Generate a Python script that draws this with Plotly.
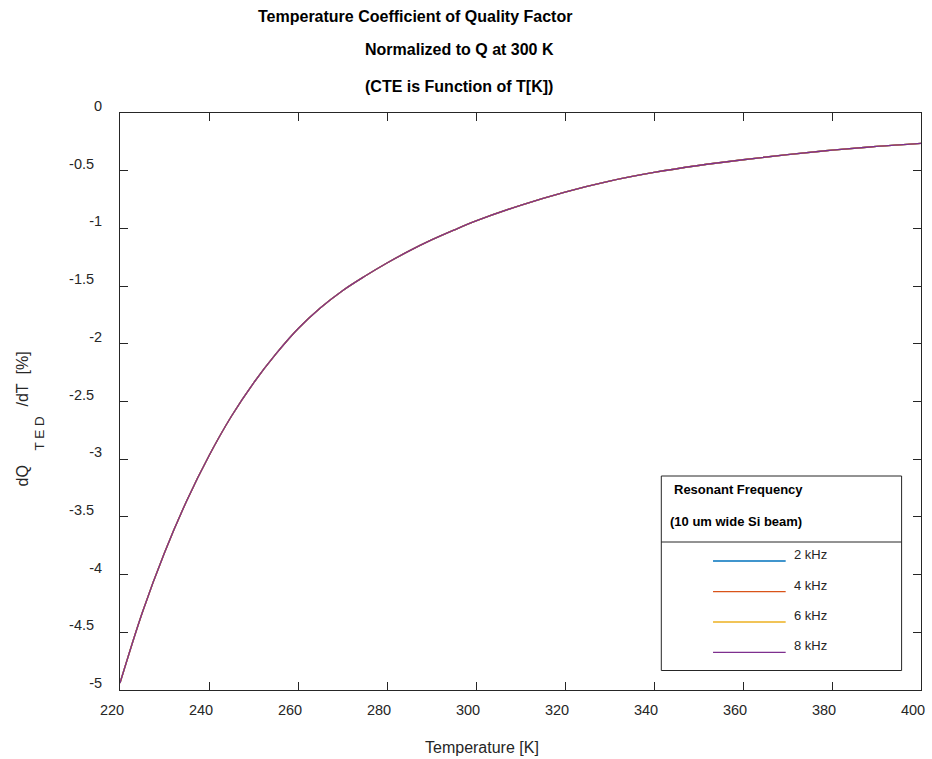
import plotly.graph_objects as go

# ---------------- data ----------------
temperature_k = [220, 225, 230, 235, 240, 245, 250, 255, 260, 265, 270, 275, 280,
                 285, 290, 295, 300, 310, 320, 330, 340, 350, 360, 370, 380, 390, 400]
dq_2khz = [-4.94, -4.33, -3.81, -3.36, -2.97, -2.63, -2.34, -2.09, -1.87, -1.69, -1.54,
           -1.415, -1.30, -1.195, -1.10, -1.015, -0.935, -0.80, -0.685, -0.59, -0.515,
           -0.455, -0.405, -0.36, -0.322, -0.29, -0.264]
dq_4khz = [-4.94, -4.33, -3.81, -3.36, -2.97, -2.63, -2.34, -2.09, -1.87, -1.69, -1.54,
           -1.415, -1.30, -1.195, -1.10, -1.015, -0.935, -0.80, -0.685, -0.59, -0.515,
           -0.455, -0.405, -0.36, -0.322, -0.29, -0.264]
dq_6khz = [-4.94, -4.33, -3.81, -3.36, -2.97, -2.63, -2.34, -2.09, -1.87, -1.69, -1.54,
           -1.415, -1.30, -1.195, -1.10, -1.015, -0.935, -0.80, -0.685, -0.59, -0.515,
           -0.455, -0.405, -0.36, -0.322, -0.29, -0.264]
dq_8khz = [-4.94, -4.33, -3.81, -3.36, -2.97, -2.63, -2.34, -2.09, -1.87, -1.69, -1.54,
           -1.415, -1.30, -1.195, -1.10, -1.015, -0.935, -0.80, -0.685, -0.59, -0.515,
           -0.455, -0.405, -0.36, -0.322, -0.29, -0.264]
series_names = ["2 kHz", "4 kHz", "6 kHz", "8 kHz"]
series_colors = ["#0072BD", "#D95319", "#EDB120", "#7E2F8E"]

x_tick_vals = [220, 240, 260, 280, 300, 320, 340, 360, 380, 400]
y_tick_vals = [0, -0.5, -1, -1.5, -2, -2.5, -3, -3.5, -4, -4.5, -5]
y_tick_text = ["0", "-0.5", "-1", "-1.5", "-2", "-2.5", "-3", "-3.5", "-4", "-4.5", "-5"]

title_lines = ["Temperature Coefficient of Quality Factor",
               "Normalized to Q at 300 K",
               "(CTE is Function of T[K])"]
legend_header = ["Resonant Frequency", "(10 um wide Si beam)"]

# ---------------- layout geometry ----------------
W, H = 932, 759
L, R, T, B = 120, 7, 113, 69
PW, PH = W - L - R, H - T - B
FONT = "Liberation Sans, Arial, Helvetica, sans-serif"
AX = "#262626"


def px(xp):
    return (xp - L) / PW


def py(yp):
    return (H - B - yp) / PH


fig = go.Figure()
all_series = [dq_2khz, dq_4khz, dq_6khz, dq_8khz]
for name, vals, col in zip(series_names, all_series, series_colors):
    fig.add_trace(go.Scatter(x=temperature_k, y=vals, mode="lines", name=name,
                             line=dict(color=col, width=1.3, shape="spline"),
                             showlegend=False))

# pad half-step labels so they sit further left, as in the reference
y_text_padded = [t if "." not in t else t + "\u00a0\u00a0" for t in y_tick_text]

fig.update_layout(
    width=W, height=H, autosize=False,
    margin=dict(l=L, r=R, t=T, b=B),
    paper_bgcolor="white", plot_bgcolor="white",
    font=dict(family=FONT, size=14.5, color="#262626"),
    xaxis=dict(range=[220, 400], tickvals=x_tick_vals, ticks="inside", ticklen=8,
               tickcolor=AX, showline=True, linecolor=AX, linewidth=1, mirror="ticks",
               showgrid=False, zeroline=False, ticklabelshift=-8, ticklabelstandoff=7,
               tickfont=dict(size=14.5, color="#262626")),
    yaxis=dict(range=[-5, 0], tickvals=y_tick_vals, ticktext=y_text_padded,
               ticks="inside", ticklen=8, tickcolor=AX, showline=True, linecolor=AX,
               linewidth=1, mirror="ticks", showgrid=False, zeroline=False,
               ticklabelshift=-7, ticklabelstandoff=14,
               tickfont=dict(size=14.5, color="#262626")),
)

ann = []
# titles
title_pos = [(416.7, 16), (461, 49), (461, 87)]
for txt, (xp, yp) in zip(title_lines, title_pos):
    ann.append(dict(text="<b>%s</b>" % txt, x=px(xp), y=py(yp), xref="paper", yref="paper",
                    xanchor="center", yanchor="middle", showarrow=False,
                    font=dict(family=FONT, size=16, color="black")))
# x axis label
ann.append(dict(text="Temperature [K]", x=px(484), y=py(747), xref="paper", yref="paper",
                xanchor="center", yanchor="middle", showarrow=False,
                font=dict(family=FONT, size=16, color="#262626")))
# y axis label pieces
ann.append(dict(text="dQ", x=px(22), y=py(476), xref="paper", yref="paper", textangle=-90,
                xanchor="center", yanchor="middle", showarrow=False,
                font=dict(family=FONT, size=16, color="#262626")))
ann.append(dict(text="T E D", x=px(39), y=py(433), xref="paper", yref="paper", textangle=-90,
                xanchor="center", yanchor="middle", showarrow=False,
                font=dict(family=FONT, size=13.5, color="#262626")))
ann.append(dict(text="/dT\u00a0\u00a0[%]", x=px(22), y=py(379), xref="paper", yref="paper",
                textangle=-90, xanchor="center", yanchor="middle", showarrow=False,
                font=dict(family=FONT, size=16, color="#262626")))

# custom legend box
shapes = [
    dict(type="rect", xref="paper", yref="paper", x0=px(664), x1=px(905.5), y0=py(670.5),
         y1=py(476), line=dict(color=AX, width=1), fillcolor="white", layer="above"),
    dict(type="line", xref="paper", yref="paper", x0=px(664), x1=px(905.5), y0=py(542),
         y1=py(542), line=dict(color=AX, width=1), layer="above"),
]
ann.append(dict(text="<b>%s</b>" % legend_header[0], x=px(675), y=py(489), xref="paper",
                yref="paper", xanchor="left", yanchor="middle", showarrow=False,
                font=dict(family=FONT, size=13, color="black")))
ann.append(dict(text="<b>%s</b>" % legend_header[1], x=px(671), y=py(521.5), xref="paper",
                yref="paper", xanchor="left", yanchor="middle", showarrow=False,
                font=dict(family=FONT, size=13, color="black")))
entry_line_y = [561, 591.7, 622, 652.3]
for name, col, yl in zip(series_names, series_colors, entry_line_y):
    shapes.append(dict(type="line", xref="paper", yref="paper", x0=px(716), x1=px(789),
                       y0=py(yl), y1=py(yl), line=dict(color=col, width=1.3), layer="above"))
    ann.append(dict(text=name, x=px(795), y=py(yl - 6.5), xref="paper", yref="paper",
                    xanchor="left", yanchor="middle", showarrow=False,
                    font=dict(family=FONT, size=13, color="#262626")))

fig.update_layout(annotations=ann, shapes=shapes)
fig.write_html("out.html",
               config={"displayModeBar": False},
               post_script="document.body.style.margin='0';"
                           "document.body.style.overflow='hidden';")
